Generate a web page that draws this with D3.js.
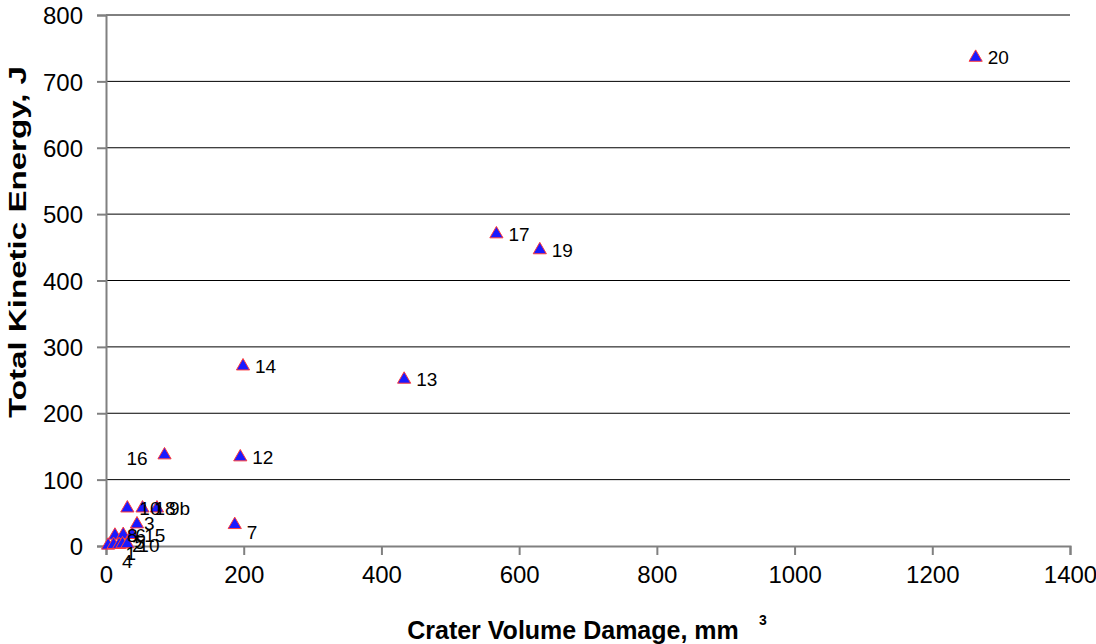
<!DOCTYPE html>
<html>
<head>
	<title>crater</title>
	<script type="text/javascript" src="https://cdn.jsdelivr.net/npm/d3@7"></script>
	<style>
		body { margin: 0; background: #fff; }
		text { font-family: "Liberation Sans", Arial, sans-serif; }
	</style>
</head>
<body>
	<script type="text/javascript">
		var width = 1096,
			height = 644;

		// test points: crater volume (mm3), kinetic energy (J), label
		var volume = [1263, 567, 630, 199, 433, 85, 195, 187, 31, 53, 74, 45, 13, 25, 38, 3, 11, 19, 24, 31];
		var energy = [736, 470, 446, 271, 251, 137, 134, 32, 57, 57, 57, 33, 16, 17, 17, 1, 2, 2, 3, 3];
		var labels = ['20', '17', '19', '14', '13', '16', '12', '7', '10', '18', '9b', '3', '8', '6', '15', '4', '1', '2', '5', '10'];
		// where each label sits relative to its marker
		var labelDx = [12, 12, 12, 12, 12, -38, 12, 12, 12, 12, 12, 7, 12, 12, 12, 14, 12, 13, 12, 11];
		var labelDy = [0, 0, 0, 0, 0, 3, 0, 7, 0, 0, 0, -1, 0, 0, 0, 16, 8, 0, -2, 1];

		var xTicks = [0, 200, 400, 600, 800, 1000, 1200, 1400];
		var yTicks = [0, 100, 200, 300, 400, 500, 600, 700, 800];

		var padding = {top : 15, right : 26, bottom : 98, left : 106};

		var svg = d3.select('body')
					.append('svg')
					.attr('width' , width)
					.attr('height' , height);

		var x = d3.scaleLinear().domain([0, 1400]).range([padding.left, width - padding.right]);
		var y = d3.scaleLinear().domain([0, 800]).range([height - padding.bottom, padding.top]);

		// horizontal grid
		svg.append('g')
			.selectAll('line')
			.data(yTicks.filter(function(d){ return d > 0; }))
			.enter().append('line')
			.attr('x1' , padding.left)
			.attr('x2' , width - padding.right)
			.attr('y1' , function(d){ return y(d); })
			.attr('y2' , function(d){ return y(d); })
			.attr('stroke' , '#000')
			.attr('stroke-width' , 1);

		var yAxis = svg.append('g')
			.attr('transform' , 'translate(' + padding.left + ',0)')
			.call(d3.axisLeft(y).tickValues(yTicks).tickFormat(d3.format('d')).tickSize(9).tickPadding(14));
		var xAxis = svg.append('g')
			.attr('transform' , 'translate(0,' + y(0) + ')')
			.call(d3.axisBottom(x).tickValues(xTicks).tickFormat(d3.format('d')).tickSize(9).tickPadding(11));

		[xAxis, yAxis].forEach(function(a){
			a.select('.domain').attr('stroke' , '#808080').attr('stroke-width' , 2);
			a.selectAll('.tick line').attr('stroke' , '#808080').attr('stroke-width' , 2);
			a.selectAll('.tick text').attr('fill' , '#000').style('font-size' , '24px')
				.style('font-family' , '"Liberation Sans", Arial, sans-serif');
		});
		yAxis.selectAll('.tick text').attr('dy' , '0.36em');

		var tri = d3.symbol().type(d3.symbolTriangle).size(75);

		svg.append('g')
			.selectAll('path')
			.data(volume)
			.enter().append('path')
			.attr('d' , tri)
			.attr('transform' , function(d , i){
				return 'translate(' + x(d) + ',' + y(energy[i]) + ')';
			})
			.attr('fill' , '#1a1aff')
			.attr('stroke' , '#ff3b3b')
			.attr('stroke-width' , 1);

		svg.append('g')
			.selectAll('text')
			.data(labels)
			.enter().append('text')
			.attr('x' , function(d , i){ return x(volume[i]) + labelDx[i]; })
			.attr('y' , function(d , i){ return y(energy[i]) + labelDy[i]; })
			.attr('dy' , '0.36em')
			.style('font-size' , '19px')
			.text(function(d){ return d; });

		svg.append('text')
			.attr('x' , 573)
			.attr('y' , 639)
			.attr('text-anchor' , 'middle')
			.style('font-size' , '25px')
			.style('font-weight' , 'bold')
			.text('Crater Volume Damage, mm');
		svg.append('text')
			.attr('x' , 763)
			.attr('y' , 625)
			.attr('text-anchor' , 'middle')
			.style('font-size' , '14px')
			.style('font-weight' , 'bold')
			.text('3');

		svg.append('text')
			.attr('transform' , 'translate(26,' + 242 + ') rotate(-90)')
			.attr('text-anchor' , 'middle')
			.attr('textLength' , 352)
			.attr('lengthAdjust' , 'spacingAndGlyphs')
			.style('font-size' , '23px')
			.style('font-weight' , 'bold')
			.text('Total Kinetic Energy, J');
	</script>
</body>
</html>
